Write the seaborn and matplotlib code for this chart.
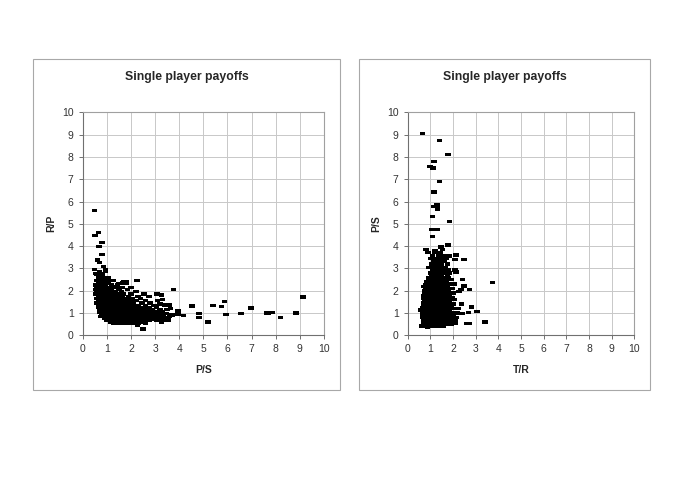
import matplotlib
matplotlib.use('Agg')
import matplotlib.pyplot as plt
from matplotlib.patches import Rectangle
import seaborn as sns
import pandas as pd

# Left panel: P/S (x) vs R/P (y)
left_points = [
    # sparse / outlying points
    (0.48, 5.60), (0.52, 4.47), (0.65, 4.60), (0.79, 4.16), (0.68, 3.98),
    (0.79, 3.63), (0.62, 3.38), (0.69, 3.26), (0.48, 2.96), (0.54, 2.78),
    (0.86, 3.10), (0.95, 2.93), (1.00, 2.56), (2.24, 2.45), (3.76, 2.05),
    (4.54, 1.32), (4.83, 0.97), (4.83, 0.81), (5.19, 0.60), (5.41, 1.35),
    (5.75, 1.30), (5.87, 1.51), (5.93, 0.93), (6.55, 0.97), (6.97, 1.23),
    (7.62, 1.00), (7.68, 0.97), (7.85, 1.02), (8.19, 0.81), (8.83, 1.00),
    (9.13, 1.72), (4.17, 0.88), (3.96, 0.94), (3.94, 1.09), (2.49, 0.28),
    (2.27, 0.45), (3.09, 1.85), (3.27, 1.81), (3.31, 1.61), (3.20, 1.41),
    (3.40, 1.36), (3.59, 1.36), (3.63, 1.21), (3.48, 0.99), (3.70, 0.91),
    (3.34, 0.84), (3.55, 0.69), (3.27, 0.60), (1.69, 2.39), (1.82, 2.39),
    (1.41, 2.18), (1.48, 2.33),
    # dense cluster
    (1.30, 0.55), (1.55, 0.55), (1.80, 0.55), (2.05, 0.55), (2.30, 0.55), (2.60, 0.55),
    (1.00, 0.65), (1.20, 0.65), (1.45, 0.65), (1.70, 0.65), (1.95, 0.65), (2.20, 0.65),
    (2.45, 0.65), (2.75, 0.65), (3.05, 0.65), (3.35, 0.65),
    (0.90, 0.75), (1.10, 0.75), (1.35, 0.75), (1.60, 0.75), (1.85, 0.75), (2.10, 0.75),
    (2.35, 0.75), (2.60, 0.75), (2.90, 0.75), (3.20, 0.75), (3.50, 0.75),
    (0.75, 0.85), (1.00, 0.85), (1.20, 0.85), (1.45, 0.85), (1.70, 0.85), (1.95, 0.85),
    (2.20, 0.85), (2.45, 0.85), (2.70, 0.85), (3.00, 0.85), (3.30, 0.85), (3.60, 0.85),
    (0.85, 0.95), (1.05, 0.95), (1.30, 0.95), (1.55, 0.95), (1.80, 0.95), (2.05, 0.95),
    (2.30, 0.95), (2.55, 0.95), (2.85, 0.95), (3.15, 0.95),
    (0.70, 1.05), (0.95, 1.05), (1.15, 1.05), (1.40, 1.05), (1.65, 1.05), (1.90, 1.05),
    (2.15, 1.05), (2.40, 1.05), (2.70, 1.05), (3.00, 1.05), (3.30, 1.05),
    (0.80, 1.15), (1.00, 1.15), (1.25, 1.15), (1.50, 1.15), (1.75, 1.15), (2.00, 1.15),
    (2.25, 1.15), (2.55, 1.15), (2.90, 1.15), (3.20, 1.15), (3.50, 1.15),
    (0.65, 1.25), (0.90, 1.25), (1.10, 1.25), (1.35, 1.25), (1.60, 1.25), (1.85, 1.25),
    (2.10, 1.25), (2.40, 1.25), (2.75, 1.25), (3.05, 1.25),
    (0.75, 1.35), (1.00, 1.35), (1.20, 1.35), (1.45, 1.35), (1.70, 1.35), (1.95, 1.35),
    (2.25, 1.35), (2.60, 1.35), (2.95, 1.35), (3.40, 1.35),
    (0.60, 1.45), (0.85, 1.45), (1.05, 1.45), (1.30, 1.45), (1.55, 1.45), (1.80, 1.45),
    (2.10, 1.45), (2.45, 1.45), (2.80, 1.45),
    (0.70, 1.55), (0.95, 1.55), (1.15, 1.55), (1.40, 1.55), (1.65, 1.55), (1.90, 1.55),
    (2.20, 1.55), (2.60, 1.55), (3.10, 1.55),
    (0.60, 1.65), (0.80, 1.65), (1.00, 1.65), (1.25, 1.65), (1.50, 1.65), (1.75, 1.65),
    (2.05, 1.65), (2.40, 1.65),
    (0.70, 1.75), (0.90, 1.75), (1.10, 1.75), (1.35, 1.75), (1.60, 1.75), (1.90, 1.75),
    (2.30, 1.75), (2.75, 1.75),
    (0.55, 1.85), (0.80, 1.85), (1.00, 1.85), (1.20, 1.85), (1.45, 1.85), (1.70, 1.85),
    (2.00, 1.85), (2.55, 1.85),
    (0.65, 1.95), (0.90, 1.95), (1.10, 1.95), (1.35, 1.95), (1.60, 1.95), (2.20, 1.95),
    (0.55, 2.05), (0.75, 2.05), (0.95, 2.05), (1.20, 2.05), (1.50, 2.05), (1.85, 2.05),
    (0.65, 2.15), (0.85, 2.15), (1.05, 2.15), (1.30, 2.15), (1.65, 2.15), (2.00, 2.15),
    (0.55, 2.25), (0.75, 2.25), (0.95, 2.25), (1.20, 2.25), (1.45, 2.25),
    (0.65, 2.35), (0.85, 2.35), (1.05, 2.35), (1.65, 2.35), (1.80, 2.35),
    (0.60, 2.45), (0.80, 2.45), (1.00, 2.45), (1.25, 2.45),
    (0.65, 2.60), (0.85, 2.60), (1.05, 2.60),
    (0.60, 2.75), (0.80, 2.75),
    (0.70, 2.85), (0.95, 2.85),
    # points packed in between the rows above
    (1.15, 0.60), (1.40, 0.60), (1.65, 0.60), (1.90, 0.60), (2.15, 0.60), (2.45, 0.60),
    (1.05, 0.70), (1.30, 0.70), (1.55, 0.70), (1.80, 0.70), (2.05, 0.70), (2.30, 0.70),
    (2.55, 0.70), (2.85, 0.70), (3.10, 0.70),
    (0.95, 0.80), (1.25, 0.80), (1.50, 0.80), (1.75, 0.80), (2.00, 0.80), (2.25, 0.80),
    (2.50, 0.80), (2.80, 0.80), (3.10, 0.80), (3.40, 0.80),
    (0.80, 0.90), (1.10, 0.90), (1.35, 0.90), (1.60, 0.90), (1.85, 0.90), (2.10, 0.90),
    (2.35, 0.90), (2.65, 0.90), (2.95, 0.90), (3.25, 0.90),
    (0.80, 1.00), (1.05, 1.00), (1.25, 1.00), (1.50, 1.00), (1.75, 1.00), (2.00, 1.00),
    (2.25, 1.00), (2.55, 1.00), (2.85, 1.00), (3.15, 1.00),
    (0.70, 1.10), (0.90, 1.10), (1.10, 1.10), (1.35, 1.10), (1.60, 1.10), (1.85, 1.10),
    (2.10, 1.10), (2.40, 1.10), (2.70, 1.10),
    (0.75, 1.20), (0.95, 1.20), (1.20, 1.20), (1.45, 1.20), (1.70, 1.20), (1.95, 1.20),
    (2.20, 1.20), (2.50, 1.20),
    (0.70, 1.30), (0.95, 1.30), (1.20, 1.30), (1.45, 1.30), (1.75, 1.30), (2.00, 1.30), (2.30, 1.30),
    (0.65, 1.40), (0.90, 1.40), (1.10, 1.40), (1.35, 1.40), (1.60, 1.40), (1.85, 1.40), (2.10, 1.40),
    (0.75, 1.50), (1.00, 1.50), (1.20, 1.50), (1.45, 1.50), (1.70, 1.50), (1.95, 1.50),
    (0.65, 1.60), (0.85, 1.60), (1.10, 1.60), (1.30, 1.60), (1.55, 1.60), (1.80, 1.60),
    (0.75, 1.70), (0.95, 1.70), (1.15, 1.70), (1.40, 1.70), (1.65, 1.70),
    (0.65, 1.80), (0.85, 1.80), (1.05, 1.80), (1.30, 1.80), (1.55, 1.80),
    (0.60, 1.90), (0.80, 1.90), (1.00, 1.90), (1.25, 1.90),
    (0.65, 2.00), (0.85, 2.00), (1.05, 2.00),
    (0.60, 2.10), (0.75, 2.10), (0.95, 2.10),
    (0.65, 2.20), (0.85, 2.20),
]

# Right panel: T/R (x) vs P/S (y)
right_points = [
    # sparse / outlying points
    (0.66, 9.04), (1.40, 8.73), (1.79, 8.12), (1.15, 7.79), (0.99, 7.58),
    (1.12, 7.50), (1.40, 6.89), (1.15, 6.43), (1.15, 5.78), (1.29, 5.84),
    (1.31, 5.67), (1.10, 5.32), (1.84, 5.11), (1.07, 4.75), (1.31, 4.75),
    (1.10, 4.42), (1.79, 4.05), (1.46, 3.96), (0.81, 3.84), (1.21, 3.81),
    (1.54, 3.86), (2.12, 3.60), (2.49, 3.41), (2.09, 3.41), (2.09, 2.93),
    (2.12, 2.84), (3.74, 2.38), (2.41, 2.51), (2.49, 2.21), (2.72, 2.06),
    (2.35, 2.06), (2.26, 1.96), (2.38, 1.40), (2.82, 1.27), (3.07, 1.06),
    (2.68, 1.02), (2.41, 0.97), (3.41, 0.60), (2.60, 0.52), (2.72, 0.52),
    (2.09, 0.54), (2.09, 0.69), (0.62, 0.42), (0.88, 0.36), (0.57, 1.14),
    (0.69, 1.78),
    # dense cluster
    (0.75, 0.42), (1.05, 0.42), (1.30, 0.42), (1.55, 0.42),
    (0.85, 0.50), (1.00, 0.50), (1.20, 0.50), (1.45, 0.50), (1.70, 0.50), (1.90, 0.50),
    (0.70, 0.60), (0.90, 0.60), (1.10, 0.60), (1.30, 0.60), (1.50, 0.60), (1.75, 0.60), (2.00, 0.60),
    (0.80, 0.70), (0.95, 0.70), (1.15, 0.70), (1.35, 0.70), (1.60, 0.70), (1.85, 0.70),
    (0.65, 0.80), (0.85, 0.80), (1.05, 0.80), (1.25, 0.80), (1.45, 0.80), (1.65, 0.80),
    (1.90, 0.80), (2.15, 0.80),
    (0.75, 0.90), (0.95, 0.90), (1.15, 0.90), (1.40, 0.90), (1.60, 0.90), (1.80, 0.90), (2.00, 0.90),
    (0.70, 1.00), (0.90, 1.00), (1.10, 1.00), (1.30, 1.00), (1.50, 1.00), (1.70, 1.00),
    (1.95, 1.00), (2.20, 1.00),
    (0.60, 1.10), (0.80, 1.10), (1.00, 1.10), (1.20, 1.10), (1.40, 1.10), (1.65, 1.10), (1.85, 1.10),
    (0.75, 1.20), (0.95, 1.20), (1.15, 1.20), (1.35, 1.20), (1.55, 1.20), (1.75, 1.20),
    (2.00, 1.20), (2.25, 1.20),
    (0.85, 1.30), (1.05, 1.30), (1.25, 1.30), (1.45, 1.30), (1.70, 1.30), (1.90, 1.30),
    (0.70, 1.40), (0.90, 1.40), (1.10, 1.40), (1.30, 1.40), (1.50, 1.40), (1.75, 1.40), (2.00, 1.40),
    (0.80, 1.50), (1.00, 1.50), (1.20, 1.50), (1.40, 1.50), (1.60, 1.50), (1.85, 1.50),
    (0.75, 1.60), (0.95, 1.60), (1.15, 1.60), (1.35, 1.60), (1.55, 1.60), (1.80, 1.60), (2.05, 1.60),
    (0.85, 1.70), (1.05, 1.70), (1.25, 1.70), (1.45, 1.70), (1.70, 1.70), (1.95, 1.70),
    (0.80, 1.80), (1.00, 1.80), (1.20, 1.80), (1.40, 1.80), (1.60, 1.80), (1.85, 1.80),
    (0.90, 1.90), (1.10, 1.90), (1.30, 1.90), (1.50, 1.90), (1.75, 1.90), (2.00, 1.90),
    (0.75, 2.00), (0.95, 2.00), (1.15, 2.00), (1.35, 2.00), (1.55, 2.00), (1.80, 2.00),
    (0.85, 2.10), (1.05, 2.10), (1.25, 2.10), (1.45, 2.10), (1.70, 2.10), (1.95, 2.10),
    (0.70, 2.20), (0.90, 2.20), (1.10, 2.20), (1.30, 2.20), (1.50, 2.20), (1.75, 2.20),
    (0.95, 2.30), (1.15, 2.30), (1.35, 2.30), (1.60, 2.30), (1.85, 2.30), (2.05, 2.30),
    (0.85, 2.40), (1.05, 2.40), (1.25, 2.40), (1.45, 2.40), (1.70, 2.40),
    (1.00, 2.50), (1.20, 2.50), (1.40, 2.50), (1.65, 2.50), (1.90, 2.50),
    (0.95, 2.60), (1.15, 2.60), (1.35, 2.60), (1.55, 2.60), (1.80, 2.60),
    (1.05, 2.70), (1.25, 2.70), (1.50, 2.70), (1.75, 2.70),
    (1.00, 2.80), (1.20, 2.80), (1.40, 2.80), (1.65, 2.80), (1.85, 2.80),
    (1.10, 2.95), (1.30, 2.95), (1.55, 2.95), (1.80, 2.95),
    (0.95, 3.05), (1.20, 3.05), (1.45, 3.05), (1.65, 3.05),
    (1.05, 3.20), (1.30, 3.20), (1.50, 3.20), (1.75, 3.20),
    (1.15, 3.30), (1.40, 3.30), (1.60, 3.30),
    (1.00, 3.45), (1.25, 3.45), (1.50, 3.45), (1.70, 3.45),
    (1.10, 3.55), (1.35, 3.55), (1.60, 3.55), (1.85, 3.55),
    (0.90, 3.70), (1.20, 3.70), (1.45, 3.70),
    # points packed in between the rows above
    (0.80, 0.55), (0.95, 0.55), (1.10, 0.55), (1.35, 0.55), (1.60, 0.55),
    (0.75, 0.65), (1.00, 0.65), (1.20, 0.65), (1.40, 0.65), (1.65, 0.65),
    (0.70, 0.75), (0.90, 0.75), (1.05, 0.75), (1.25, 0.75), (1.50, 0.75), (1.70, 0.75),
    (0.80, 0.85), (1.00, 0.85), (1.20, 0.85), (1.35, 0.85), (1.55, 0.85), (1.75, 0.85),
    (0.65, 0.95), (0.85, 0.95), (1.05, 0.95), (1.25, 0.95), (1.45, 0.95), (1.70, 0.95),
    (0.80, 1.05), (1.00, 1.05), (1.20, 1.05), (1.40, 1.05), (1.60, 1.05), (1.80, 1.05),
    (0.70, 1.15), (0.90, 1.15), (1.10, 1.15), (1.30, 1.15), (1.50, 1.15), (1.70, 1.15),
    (0.65, 1.25), (0.85, 1.25), (1.05, 1.25), (1.25, 1.25), (1.45, 1.25), (1.65, 1.25), (1.85, 1.25),
    (0.80, 1.35), (1.00, 1.35), (1.20, 1.35), (1.40, 1.35), (1.60, 1.35),
    (0.70, 1.45), (0.90, 1.45), (1.10, 1.45), (1.30, 1.45), (1.50, 1.45), (1.70, 1.45),
    (0.85, 1.55), (1.05, 1.55), (1.25, 1.55), (1.45, 1.55), (1.65, 1.55),
    (0.70, 1.65), (0.90, 1.65), (1.10, 1.65), (1.30, 1.65), (1.50, 1.65), (1.75, 1.65),
    (0.90, 1.75), (1.10, 1.75), (1.30, 1.75), (1.50, 1.75), (1.70, 1.75),
    (0.75, 1.85), (0.95, 1.85), (1.15, 1.85), (1.35, 1.85), (1.55, 1.85),
    (0.85, 1.95), (1.05, 1.95), (1.25, 1.95), (1.45, 1.95), (1.65, 1.95),
    (0.80, 2.05), (1.00, 2.05), (1.20, 2.05), (1.40, 2.05), (1.60, 2.05),
    (0.95, 2.15), (1.15, 2.15), (1.35, 2.15), (1.55, 2.15),
    (0.80, 2.25), (1.00, 2.25), (1.20, 2.25), (1.40, 2.25),
    (1.10, 2.35), (1.30, 2.35), (1.50, 2.35),
    (0.95, 2.45), (1.15, 2.45), (1.35, 2.45), (1.55, 2.45),
]

ticks = list(range(0, 11))
title = 'Single player payoffs'

df_left = pd.DataFrame(left_points, columns=['P/S', 'R/P'])
df_right = pd.DataFrame(right_points, columns=['T/R', 'P/S'])

sns.set_theme(style="whitegrid")
plt.rcParams['font.family'] = ['Liberation Sans', 'DejaVu Sans']

fig = plt.figure(figsize=(6.85, 4.83), dpi=100)
fig.patch.set_facecolor('white')

# flat dash marker like the Excel one
dash = [(-1, -0.6), (1, -0.6), (1, 0.6), (-1, 0.6)]

# panel frames (pixels -> figure fraction)
W, H = 685, 483
for x0, x1 in [(33, 340), (359, 650)]:
    fig.patches.append(Rectangle((x0 / W, 1 - 390 / H), (x1 - x0) / W, (390 - 59) / H,
                                 transform=fig.transFigure, fill=False,
                                 edgecolor='#a8a8a8', linewidth=0.8))

panels = [
    (df_left, 'P/S', 'R/P', [82.7 / W, 1 - 335.3 / H, (324 - 82.7) / W, (335.3 - 112.3) / H], 186.5),
    (df_right, 'T/R', 'P/S', [407.7 / W, 1 - 335.3 / H, (634.3 - 407.7) / W, (335.3 - 112.3) / H], 504.5),
]

for df, xcol, ycol, rect, cx in panels:
    ax = fig.add_axes(rect)
    sns.scatterplot(data=df, x=xcol, y=ycol, ax=ax, marker=dash, s=16,
                    color='black', edgecolor='none', linewidth=0)
    ax.set_xlim(0, 10)
    ax.set_ylim(0, 10)
    ax.set_xticks(ticks)
    ax.set_yticks(ticks)
    ax.grid(True, color='#c8c8c8', linewidth=0.7)
    ax.set_facecolor('white')
    for side in ['top', 'right']:
        ax.spines[side].set_color('#a0a0a0')
        ax.spines[side].set_linewidth(0.8)
    for side in ['left', 'bottom']:
        ax.spines[side].set_color('#707070')
        ax.spines[side].set_linewidth(0.8)
    ax.tick_params(axis='both', which='major', direction='out', length=3, width=0.7,
                   color='#707070', labelsize=7.5, labelcolor='#333333', pad=3.5,
                   bottom=True, left=True)
    ax.set_xlabel(xcol, fontsize=7.5, fontweight='bold', labelpad=8)
    ax.set_ylabel(ycol, fontsize=7.5, fontweight='bold', labelpad=4)
    fig.text(cx / W, 1 - 76.7 / H, title, ha='center', va='center',
             fontsize=8.8, fontweight='bold')

plt.savefig('out.png', dpi=100)
plt.close()
